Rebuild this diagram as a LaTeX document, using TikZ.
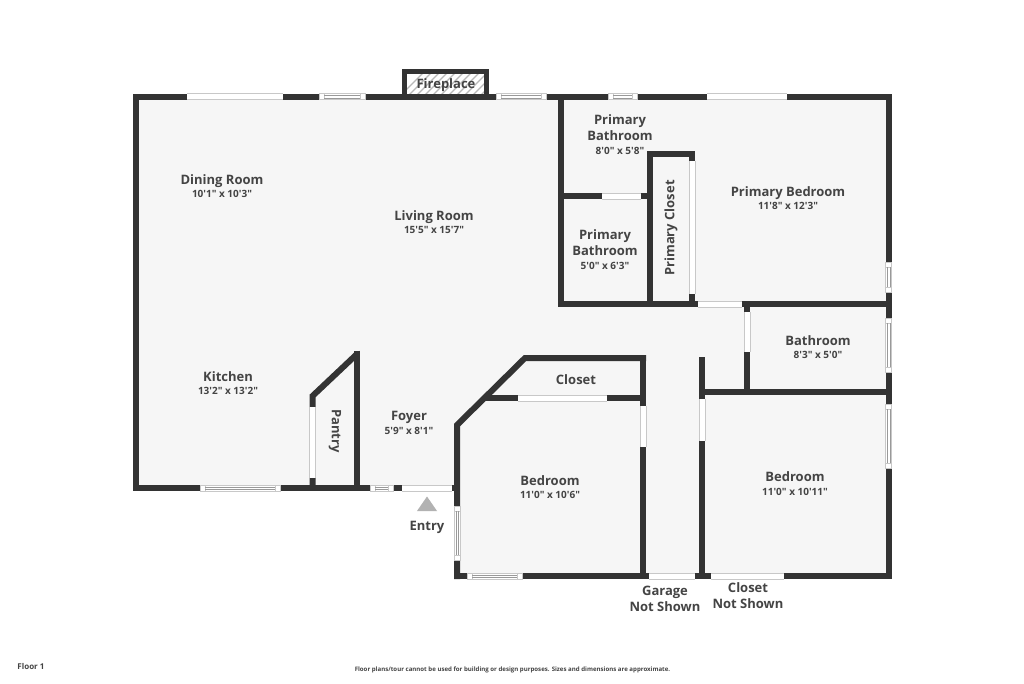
\documentclass[tikz,border=0pt]{standalone}
\usepackage{fontspec}
\newfontfamily\osfont{Open Sans}
\definecolor{wallc}{HTML}{333333}
\definecolor{floorc}{HTML}{F6F6F6}
\definecolor{textc}{HTML}{444444}
\definecolor{edgec}{HTML}{C8C8C8}
\definecolor{trimc}{HTML}{999999}
\newcommand{\hwin}[3]{% x1 x2 y : window in a horizontal wall
  \fill[white] (#1,#3-3) rectangle (#2,#3+3);
  \draw[winline] (#1,#3-3) rectangle (#2,#3+3);
  \draw[winline] (#1+5,#3-3) -- (#1+5,#3+3) (#2-5,#3-3) -- (#2-5,#3+3);
  \draw[winin] (#1+5,#3-1.2) -- (#2-5,#3-1.2) (#1+5,#3+1.2) -- (#2-5,#3+1.2);}
\newcommand{\vwin}[3]{% y1 y2 x : window in a vertical wall
  \fill[white] (#3-3,#1) rectangle (#3+3,#2);
  \draw[winline] (#3-3,#1) rectangle (#3+3,#2);
  \draw[winline] (#3-3,#1+5) -- (#3+3,#1+5) (#3-3,#2-5) -- (#3+3,#2-5);
  \draw[winin] (#3-1.2,#1+5) -- (#3-1.2,#2-5) (#3+1.2,#1+5) -- (#3+1.2,#2-5);}
\newcommand{\hgap}[3]{% x1 x2 y : opening in a horizontal wall
  \fill[white] (#1,#3-3) rectangle (#2,#3+3);
  \draw[gapline] (#1,#3-3) -- (#2,#3-3) (#1,#3+3) -- (#2,#3+3);}
\newcommand{\vgap}[3]{% y1 y2 x : opening in a vertical wall
  \fill[white] (#3-3,#1) rectangle (#3+3,#2);
  \draw[gapline] (#3-3,#1) -- (#3-3,#2) (#3+3,#1) -- (#3+3,#2);}
\begin{document}
\begin{tikzpicture}[x=1pt,y=-1pt,
  wall/.style={line width=6pt,draw=wallc,line cap=butt,line join=miter},
  winline/.style={line width=0.5pt,draw=edgec},
  winin/.style={line width=0.6pt,draw=trimc},
  gapline/.style={line width=0.6pt,draw=edgec},
  room/.style={font=\osfont\fontsize{13}{16.5}\selectfont\bfseries,text=textc,align=center,inner sep=0pt},
  dims/.style={font=\osfont\fontsize{10}{12}\selectfont\bfseries,text=textc,align=center,inner sep=0pt}]
\useasboundingbox (0,0) rectangle (1024,683);
\fill[white] (0,0) rectangle (1024,683);
% floor
\fill[floorc] (136,97) -- (888,97) -- (888,576) -- (457,576) -- (457,488) -- (136,488) -- cycle;
% fireplace
\begin{scope}
  \clip (407,73) rectangle (484,93);
  \fill[white] (407,73) rectangle (484,93);
  \foreach \i in {0,8,...,112} \draw[line width=1.3pt,draw=black!28] (400+\i,96) -- (400+\i+26,70);
\end{scope}
\draw[line width=5pt,draw=wallc,line join=miter] (404.5,97) -- (404.5,71.5) -- (486.5,71.5) -- (486.5,97);
% outer walls
\draw[wall] (133,96.7) -- (892,96.7);
\draw[wall] (136,94) -- (136,491);
\draw[wall] (888.7,94) -- (888.7,579);
\draw[wall] (133,488) -- (457,488);
\draw[wall] (454,576) -- (892,576);
% primary suite
\draw[wall] (561,94) -- (561,307);
\draw[wall] (558,304) -- (698,304);
\draw[wall] (561,196) -- (649.5,196);
\draw[wall] (649.5,304) -- (649.5,154) -- (695,154);
\draw[wall] (692,154) -- (692,304);
% bathroom
\draw[wall] (742,304) -- (892,304);
\draw[wall] (747,304) -- (747,392);
\draw[wall] (699,392) -- (892,392);
% right bedroom
\draw[wall] (702,357) -- (702,579);
% left bedroom and closet
\draw[wall] (457,579) -- (457,425) -- (525,358) -- (646,358);
\draw[wall] (643,355) -- (643,576);
\draw[wall] (486,398) -- (643,398);
% pantry
\draw[wall] (312.5,488) -- (312.5,396) -- (357,354);
\draw[wall,line join=round] (357,350.5) -- (357,488);
% windows and openings, top wall
\hgap{187}{283}{96.7}
\hwin{319}{365}{96.7}
\hwin{496}{546}{96.7}
\hwin{608}{637}{96.7}
\hgap{707}{787}{96.7}
% right wall
\vwin{262}{292}{888.7}
\vwin{318}{372}{888.7}
\vwin{404}{468}{888.7}
% interior doors
\hgap{602}{641}{196}
\vgap{161}{294}{692}
\hgap{698}{742}{304}
\vgap{312}{352}{747}
\vgap{399}{441}{702}
\vgap{406}{447}{643}
\hgap{518}{607}{398}
\vgap{407}{478}{312.5}
% lower walls
\hwin{200}{280}{488}
\hwin{370}{393}{488}
\hgap{402}{452}{488}
\vwin{506}{560}{457}
\hwin{467}{522}{576}
\hgap{649}{695}{576}
\hgap{711}{784}{576}
% entry marker
\fill[black!30] (427,496.5) -- (437,511) -- (417,511) -- cycle;
% labels
\node[room] (fire) at (446,85.5) {Fireplace};
\node[room] (din) at (222,181) {Dining Room};
\node[dims] (dind) at (222,193.5) {10'1" x 10'3"};
\node[room] (liv) at (434,217) {Living Room};
\node[dims] (livd) at (434,229.5) {15'5" x 15'7"};
\node[room] (pb1) at (620,127.5) {Primary\\Bathroom};
\node[dims] (pb1d) at (620,150.5) {8'0" x 5'8"};
\node[room] (pb2) at (605,242.5) {Primary\\Bathroom};
\node[dims] (pb2d) at (605,265.5) {5'0" x 6'3"};
\node[room,rotate=90] (pc) at (671,228) {Primary Closet};
\node[room] (pbr) at (788,193) {Primary Bedroom};
\node[dims] (pbrd) at (788,206) {11'8" x 12'3"};
\node[room] (bath) at (818,340.5) {Bathroom};
\node[dims] (bathd) at (818,355) {8'3" x 5'0"};
\node[room] (kit) at (228,376.5) {Kitchen};
\node[dims] (kitd) at (228,391) {13'2" x 13'2"};
\node[room,rotate=-90] (pan) at (335,431) {Pantry};
\node[room] (foy) at (409,417.5) {Foyer};
\node[dims] (foyd) at (409,431) {5'9" x 8'1"};
\node[room] (clo) at (576,379.5) {Closet};
\node[room] (bed1) at (550,480.5) {Bedroom};
\node[dims] (bed1d) at (550,495) {11'0" x 10'6"};
\node[room] (bed2) at (795,477) {Bedroom};
\node[dims] (bed2d) at (795,491.5) {11'0" x 10'11"};
\node[room] (ent) at (427,527.5) {Entry};
\node[room] (gar) at (665,599) {Garage\\Not Shown};
\node[room] (cns) at (748,595.5) {Closet\\Not Shown};
\node[font=\osfont\fontsize{8}{10}\selectfont\bfseries,text=textc,inner sep=0pt] (flr) at (31,666) {Floor 1};
\node[font=\osfont\fontsize{6.1}{7}\selectfont\bfseries,text=textc,inner sep=0pt] (note) at (512.5,670) {Floor plans/tour cannot be used for building or design purposes. Sizes and dimensions are approximate.};
\end{tikzpicture}
\end{document}
